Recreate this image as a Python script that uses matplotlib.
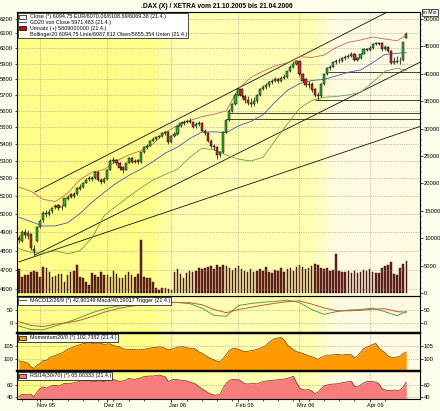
import numpy as np
import pandas as pd
import matplotlib
matplotlib.use("Agg")
import matplotlib.pyplot as plt
from matplotlib.patches import Patch
from matplotlib.lines import Line2D
from matplotlib.ticker import FixedLocator, NullLocator, FixedFormatter, NullFormatter
from matplotlib import transforms

plt.rcParams['font.family'] = ['Liberation Sans', 'DejaVu Sans']

# ---------------- data ----------------
holidays = ['2005-12-26', '2006-04-14', '2006-04-17']
dates = pd.bdate_range('2005-10-21', '2006-04-21')
dates = dates[~dates.isin(pd.to_datetime(holidays))]
month_labels = ['Nov 05', 'Dez 05', 'Jan 06', 'Feb 06', 'Mrz 06', 'Apr 06']

opens = [4870,4850,4900,4880,4890,4810,4850,4930,4965,5000,
         5000,5015,5040,5050,5035,5045,5080,5110,5100,5110,
         5140,5150,5175,5195,5200,5200,5235,5190,5180,5195,
         5250,5300,5305,5290,5265,5250,5290,5315,5295,5305,
         5295,5350,5380,5390,5420,5430,5440,5450,5465,5470,
         5410,5450,5460,5510,5525,5535,5540,5535,5505,5520,
         5525,5480,5465,5420,5385,5380,5335,5350,5470,5545,
         5600,5640,5700,5740,5690,5665,5650,5640,5660,5700,
         5740,5750,5760,5780,5790,5800,5790,5810,5815,5850,
         5880,5900,5915,5830,5800,5760,5770,5735,5700,5690,
         5770,5830,5870,5880,5910,5915,5920,5935,5945,5950,
         5965,5925,5935,5965,5995,5990,6000,6030,6035,6035,
         5995,6010,5985,5905,5910,5915,5925,6070.06]
closes = [4855,4900,4885,4895,4815,4800,4930,4960,5005,5000,
          5010,5030,5045,5030,5040,5085,5095,5095,5110,5145,
          5150,5175,5190,5200,5195,5235,5190,5180,5195,5250,
          5300,5305,5285,5260,5250,5285,5315,5295,5300,5295,
          5350,5380,5390,5420,5430,5440,5445,5465,5470,5410,
          5450,5460,5510,5525,5530,5540,5535,5500,5520,5525,
          5480,5465,5420,5385,5380,5335,5350,5470,5545,5600,
          5640,5700,5740,5690,5665,5650,5640,5660,5700,5740,
          5750,5760,5780,5790,5800,5790,5810,5815,5850,5880,
          5900,5915,5830,5790,5760,5770,5730,5700,5690,5770,
          5830,5870,5880,5910,5915,5920,5935,5945,5950,5960,
          5925,5935,5965,5995,5990,6000,6030,6035,6030,5995,
          6010,5985,5905,5915,5920,5915,6040,6094.75]
highs = [4885,4910,4915,4910,4895,4830,4935,4970,5015,5020,
         5025,5040,5055,5055,5050,5090,5105,5115,5120,5150,
         5165,5180,5200,5210,5210,5240,5240,5200,5205,5255,
         5310,5320,5310,5295,5270,5290,5320,5320,5310,5310,
         5355,5385,5400,5425,5440,5450,5455,5470,5480,5475,
         5455,5470,5515,5535,5545,5550,5555,5540,5530,5540,
         5530,5490,5470,5430,5400,5385,5360,5475,5550,5610,
         5650,5710,5750,5745,5700,5690,5680,5685,5705,5745,
         5760,5775,5790,5800,5815,5810,5820,5830,5855,5890,
         5915,5925,5920,5840,5810,5785,5780,5745,5715,5775,
         5835,5875,5890,5920,5930,5935,5945,5955,5960,5975,
         5970,5945,5970,6000,6005,6015,6035,6045,6045,6040,
         6020,6015,5990,5945,5950,5945,6045,6108.69]
lows = [4840,4845,4870,4865,4805,4780,4845,4920,4955,4985,
        4990,5005,5025,5020,5020,5040,5075,5085,5090,5105,
        5135,5145,5170,5185,5185,5195,5185,5165,5170,5190,
        5245,5290,5275,5250,5230,5245,5285,5285,5285,5280,
        5290,5345,5370,5385,5415,5425,5435,5440,5455,5400,
        5405,5440,5455,5500,5515,5525,5525,5495,5495,5510,
        5475,5455,5410,5375,5365,5310,5320,5345,5465,5540,
        5595,5635,5690,5680,5650,5635,5625,5630,5650,5695,
        5730,5740,5750,5770,5780,5775,5780,5800,5810,5845,
        5870,5890,5820,5780,5750,5745,5720,5685,5668,5685,
        5765,5825,5860,5875,5900,5905,5910,5925,5935,5945,
        5915,5915,5930,5960,5980,5985,5995,6020,6020,5985,
        5990,5975,5895,5900,5905,5900,5920,6069.38]
# turnover in Mio EUR
volume = [4320,2980,3280,3280,3890,4070,3890,2980,4800,4500,
          3890,2980,3100,3470,3470,2070,3280,3890,4070,5110,
          2980,2680,2070,1460,3590,3280,2980,3890,3280,3280,
          2980,4010,3470,2680,2680,3280,3890,3200,2980,3500,
          9670,2980,2680,2680,2070,970,550,970,850,670,
          550,3890,4380,3470,2680,3710,4070,3890,4070,4500,
          4300,4600,4800,5000,4400,5200,4800,5100,4900,4500,
          4200,4600,5000,4400,4100,3900,4300,3800,4100,4400,
          4000,4700,3900,3700,4200,4000,4500,3900,4300,4600,
          4100,4800,5200,4700,4400,4600,5000,5300,5100,4500,
          4300,4600,4000,4200,7200,4100,3900,3800,4000,3700,
          4100,3600,3800,4200,4000,4300,3900,3600,3700,4500,
          4900,5200,5600,3500,3300,4600,5300,5809]

# indicator values read every 4th trading day (plus last day)
ind_days = list(range(0, 128, 4)) + [127]
gd20 = [4981,4957,4933,4934,4951,5001,5064,5120,5172,5215,5252,5296,5346,5381,5432,5471,
        5473,5467,5509,5535,5576,5655,5728,5771,5791,5798,5820,5844,5858,5906,5960,5967,5971.483]
boll_up = [5150,5125,5080,5068,5115,5190,5235,5250,5300,5335,5360,5400,5470,5510,5540,5565,
           5580,5600,5740,5810,5850,5885,5905,5945,5940,5955,6005,6040,6055,6075,6062,6050,6087.812]
boll_lo = [4812,4792,4788,4800,4785,4800,4870,4990,5044,5095,5145,5190,5222,5252,5320,5375,
           5366,5335,5310,5300,5320,5420,5520,5615,5665,5685,5690,5700,5715,5780,5850,5870,5855.354]
macd = [-11,-24,-25,-11,3,20,38,52,62,67,71,76,78,76,72,55,
        28,25,65,72,77,80,85,76,50,32,42,48,50,55,42,27,42.90149]
trigger = [5,-9,-13,-4,1,10,24,40,52,61,67,71,75,76,75,68,
           50,38,50,58,66,73,79,82,70,56,46,45,47,51,53,42,40.19017]
momentum = [99.3,99.1,98.8,98.4,97.0,96.4,97.7,98.3,99.5,99.3,
            100.5,101.0,101.4,101.9,102.3,102.9,103.8,104.2,104.7,105.2,
            105.5,105.9,106.1,106.3,106.0,105.8,106.2,106.0,105.6,105.8,
            105.8,105.2,104.9,104.7,104.0,103.8,103.7,103.7,103.7,103.5,
            103.6,103.7,104.0,104.2,104.4,104.5,104.7,104.5,104.1,103.6,
            103.8,104.1,104.6,104.7,104.7,104.4,104.1,104.1,103.8,102.8,
            102.2,101.5,100.8,100.2,99.6,99.2,99.0,100.2,101.8,103.3,
            104.0,104.1,103.7,103.3,102.8,103.0,103.2,103.4,103.7,104.1,
            104.6,105.2,106.4,107.3,107.9,108.1,108.3,107.3,105.4,104.5,
            103.6,102.9,102.5,102.2,101.7,101.3,100.9,100.4,99.9,100.5,
            101.1,101.5,101.5,101.6,101.8,101.7,101.5,101.8,101.8,101.6,
            100.4,101.2,102.6,104.0,104.5,105.0,105.6,106.0,104.3,103.3,
            102.5,101.2,100.7,100.6,100.8,101.1,102.2,102.7382]
rsi = [40.5,44.5,44.0,43.5,44.5,40.5,48.9,54.4,57.0,54.8,
       57.0,59.2,59.5,58.3,60.5,62.8,62.0,62.6,63.9,65.0,
       66.2,68.0,67.8,67.2,66.2,65.8,66.8,66.4,65.6,67.4,
       68.6,69.2,67.8,65.8,66.8,68.3,71.0,70.0,69.4,70.6,
       72.0,73.9,74.6,75.0,75.0,75.6,76.7,75.0,73.5,65.6,
       68.0,69.4,68.8,68.3,67.5,66.8,65.2,63.5,61.5,57.2,
       54.0,50.5,47.2,45.0,43.3,43.3,45.0,55.0,63.0,67.5,
       69.4,69.0,69.0,66.0,62.2,61.7,62.0,62.6,61.7,64.0,
       65.8,66.5,67.2,67.8,68.3,68.8,69.2,70.0,71.1,72.8,
       74.5,64.5,55.0,52.5,51.7,52.5,50.0,46.1,47.5,53.5,
       58.5,60.0,61.0,61.7,61.7,62.5,63.9,64.8,65.6,66.5,
       58.3,56.5,60.0,63.5,65.6,65.6,65.6,64.8,62.0,54.4,
       51.7,50.6,51.0,51.7,51.0,51.5,57.0,65.00333]

# trend lines: (day index, price) anchors
trend_x = [(5.25, 120.7), (5.25, 132.0), (0.0, 132.0)]
trend_p = [(5121, 6244), (4778, 5914), (4742, 5508)]
# horizontal support lines: level and starting day
support_level = [5845, 5668, 5588, 5548]
support_start = [101.5, 97, 69, 68]

price_ticks = list(range(4600, 6201, 100))
vol_ticks = list(range(0, 50001, 5000))

legend_price = ['Close (*) 6094,75 EUR/6070,06/6108,69/6069,38 (21.4.)',
                'GD20 von Close 5971,483 (21.4.)',
                'Umsatz (+) 5809000000 (21.4.)',
                'Bollinger20 6094,75 Linie/6087,812 Oben/5855,354 Unten (21.4.)']
legend_macd = 'MACD12/26/9 (*) 42,90149 Macd/40,19017 Trigger (21.4.)'
legend_mom = 'Momentum20/0 (*) 102,7382 (21.4.)'
legend_rsi = 'RSI14(30/70) (*) 65,00333 (21.4.)'
title = '.DAX (X) / XETRA vom 21.10.2005 bis 21.04.2006'

for arr in (opens, closes, highs, lows, volume, momentum, rsi):
    assert len(arr) == len(dates), len(arr)

# ---------------- figure ----------------
N = len(dates)
x = np.arange(N)
o = np.array(opens); c = np.array(closes); h = np.array(highs); l = np.array(lows)
month_idx = [int(np.argmax((dates.year == y) & (dates.month == m)))
             for y, m in [(2005, 11), (2005, 12), (2006, 1), (2006, 2), (2006, 3), (2006, 4)]]
mondays = [i for i, d in enumerate(dates) if d.weekday() == 0]

W, H = 440, 411
fig = plt.figure(figsize=(W / 100, H / 100), dpi=100)
fig.patch.set_facecolor('#FDFDEC')
XL = (-0.6, 131.5)
FS = 4.2
GRID = dict(color='#8a8a8a', lw=0.5, ls=(0, (1, 1.6)), zorder=1)


def rect(x0, y0, x1, y1):
    return [x0 / W, 1 - y1 / H, (x1 - x0) / W, (y1 - y0) / H]


def background(r, name):
    bg = fig.add_axes(r, zorder=0, label='bg' + name)
    cols = np.linspace(XL[0], XL[1], 800)
    stops = [XL[0], 43, 51, 96, 104, XL[1]]
    R = np.ones_like(cols)
    G = np.interp(cols, stops, [1, 1, 1, 1, 0.988, 0.988])
    B = np.interp(cols, stops, np.array([138, 138, 178, 178, 226, 226]) / 255)
    img = np.stack([R, G, B], axis=-1)[None, :, :]
    bg.imshow(img, aspect='auto', extent=[0, 1, 0, 1], interpolation='bilinear')
    bg.set_axis_off()
    return bg


def month_grid(a):
    for m in month_idx:
        a.axvline(m, **GRID)


def small_legend(a, handles, labels):
    lg = a.legend(handles, labels, loc='upper left', bbox_to_anchor=(0.0, 1.0),
                  fontsize=3.85, frameon=True, fancybox=False, edgecolor='black',
                  facecolor='white', framealpha=1, borderpad=0.3, labelspacing=0.15,
                  handlelength=1.3, handleheight=0.8, handletextpad=0.6, borderaxespad=0.15)
    lg.get_frame().set_linewidth(0.5)
    lg.set_zorder(20)
    return lg


# ---- price panel ----
r_price = rect(17, 12, 420, 296)
background(r_price, 'p')
axv = fig.add_axes(r_price, zorder=1, label='vol')
axv.patch.set_visible(False)
ax = fig.add_axes(r_price, zorder=2, label='price')
ax.patch.set_visible(False)

axv.bar(x, volume, width=0.5, color='#6e1f1f', edgecolor='#2a0808', lw=0.3)
axv.set_xlim(*XL)
axv.set_ylim(-547, 51277)
axv.yaxis.tick_right()
axv.yaxis.set_major_locator(FixedLocator(vol_ticks))
axv.yaxis.set_major_formatter(FixedFormatter([str(t) for t in vol_ticks]))
axv.yaxis.set_minor_locator(FixedLocator(list(range(0, 51001, 1000))))
axv.tick_params(axis='y', which='major', labelsize=FS, length=1.8, width=0.5, pad=1.2)
axv.tick_params(axis='y', which='minor', length=1.0, width=0.4)
axv.set_xticks([])
for s in axv.spines.values():
    s.set_visible(False)

ax.set_yscale('log')
ax.set_xlim(*XL)
ax.set_ylim(4567, 6245)
ax.yaxis.set_major_locator(FixedLocator(price_ticks))
ax.yaxis.set_major_formatter(FixedFormatter([str(t) for t in price_ticks]))
ax.yaxis.set_minor_locator(NullLocator())
ax.yaxis.set_minor_formatter(NullFormatter())
ax.tick_params(axis='y', labelsize=FS, length=1.8, width=0.5, pad=1.0)
ax.set_xticks([])
for s in ax.spines.values():
    s.set_linewidth(0.8)
for p in price_ticks:
    ax.axhline(p, **GRID)
month_grid(ax)

# trend lines and support lines
for (x0, x1), (p0, p1) in zip(trend_x, trend_p):
    ax.plot([x0, x1], [p0, p1], color='#111111', lw=0.6, zorder=2.5)
ax.hlines(support_level, support_start, XL[1], color='#222222', lw=0.6, zorder=2.5)

# bollinger + GD20
ax.plot(ind_days, boll_up, color='#c8645a', lw=0.6, zorder=2.6)
ax.plot(ind_days, boll_lo, color='#6aa044', lw=0.6, zorder=2.6)
ax.plot(ind_days, gd20, color='#4656b0', lw=0.6, zorder=2.6)

# candles
up = c >= o
body_lo = np.minimum(o, c)
body_h = np.maximum(np.abs(c - o), 2.0)
ax.vlines(x, l, h, color='black', lw=0.5, zorder=3)
ax.bar(x[up], body_h[up], bottom=body_lo[up], width=0.72, color='#3aac3a',
       edgecolor='black', lw=0.35, zorder=4)
ax.bar(x[~up], body_h[~up], bottom=body_lo[~up], width=0.72, color='#c8282a',
       edgecolor='black', lw=0.35, zorder=4)

hp = [Patch(facecolor='white', edgecolor='black', lw=0.5),
      Line2D([], [], color='#4656b0', lw=0.8),
      Patch(facecolor='#cc0000', edgecolor='black', lw=0.5),
      Line2D([], [], color='#f0ecc0', lw=0.8)]
small_legend(ax, hp, legend_price)

fig.text(429.5 / W, 1 - 12.5 / H, 'in Mio', fontsize=3.6, ha='center', va='center',
         bbox=dict(boxstyle='square,pad=0.25', fc='white', ec='black', lw=0.5))
fig.text(217 / W, 1 - 6.0 / H, title, fontsize=4.8, fontweight='bold', ha='center', va='center')


def sub_axes(r, name, ylim, ticks):
    background(r, name)
    a = fig.add_axes(r, zorder=2, label=name)
    a.patch.set_visible(False)
    a.set_xlim(*XL)
    a.set_ylim(*ylim)
    a.set_yticks(ticks)
    a.set_yticklabels([str(t) for t in ticks])
    a.tick_params(axis='y', labelsize=FS, length=1.8, width=0.5, pad=1.0,
                  left=True, right=True, labelleft=True, labelright=True)
    a.set_xticks([])
    for t in ticks:
        a.axhline(t, **GRID)
    month_grid(a)
    for s in a.spines.values():
        s.set_linewidth(0.8)
    return a


# ---- MACD ----
axm = sub_axes(rect(17, 296, 420, 333), 'macd', (-37, 100), [0, 50])
axm.plot(ind_days, macd, color='#5a9e38', lw=0.7, zorder=3)
axm.plot(ind_days, trigger, color='#b5603c', lw=0.7, zorder=3)
axm.spines['bottom'].set_linewidth(1.6)
small_legend(axm, [Line2D([], [], color='#4e6a30', lw=0.8)], [legend_macd])

# ---- Momentum ----
axo = sub_axes(rect(17, 333, 420, 371), 'mom', (95.4, 110), [100, 105])
axo.fill_between(x, 90, momentum, color='#ff9a00', lw=0, zorder=2)
axo.plot(x, momentum, color='#6b3a00', lw=0.5, zorder=3)
axo.spines['top'].set_linewidth(1.6)
axo.spines['bottom'].set_linewidth(1.6)
small_legend(axo, [Patch(facecolor='#ff9a00', edgecolor='black', lw=0.5)], [legend_mom])

# ---- RSI ----
axr = sub_axes(rect(17, 371, 420, 399), 'rsi', (36.7, 83.3), [40, 60])
axr.fill_between(x, 30, rsi, color='#f77c7c', lw=0, zorder=2)
axr.plot(x, rsi, color='#7a1c1c', lw=0.5, zorder=3)
axr.spines['top'].set_linewidth(1.6)
small_legend(axr, [Patch(facecolor='#f77c7c', edgecolor='black', lw=0.5)], [legend_rsi])
axr.set_xticks(mondays, minor=True)
axr.tick_params(axis='x', which='minor', length=1.5, width=0.5)
axr.set_xticks(month_idx)
axr.set_xticklabels([])
axr.tick_params(axis='x', which='major', length=2.2, width=0.5)
tr = transforms.blended_transform_factory(axr.transData, axr.transAxes)
for m, lab in zip(month_idx, month_labels):
    axr.text(m + 2.0, -6.8 / 28, lab, transform=tr, fontsize=4.1, ha='center', va='center')

fig.savefig('out.png', dpi=100, facecolor=fig.get_facecolor())
